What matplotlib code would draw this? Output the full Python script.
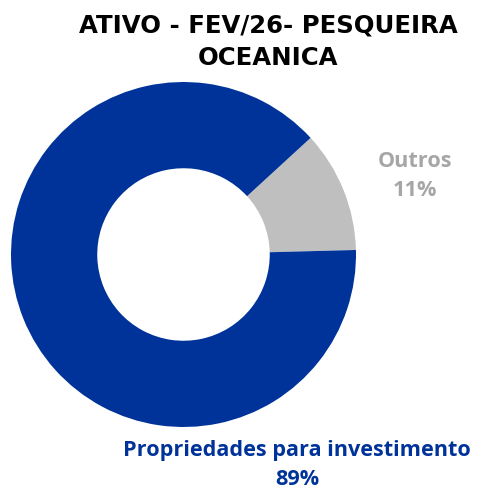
import matplotlib
matplotlib.use("Agg")
import matplotlib.pyplot as plt

title = "ATIVO - FEV/26- PESQUEIRA\nOCEANICA"
categories = ["Outros", "Propriedades para investimento"]
values = [11.4, 88.6]
colors = ["#BFBFBF", "#003399"]
label_colors = ["#A6A6A6", "#003399"]

W, H = 478, 491
fig = plt.figure(figsize=(W / 100, H / 100), dpi=100)

# donut centre (183.5, 254.5) px, outer radius 172.5 px
cx, cy, r = 183.5, 254.5, 172.5
ax = fig.add_axes([(cx - r) / W, (H - cy - r) / H, 2 * r / W, 2 * r / H])
ax.pie(
    values,
    colors=colors,
    startangle=1.5,
    counterclock=True,
    radius=1,
    wedgeprops=dict(width=0.5, edgecolor="none"),
)
ax.set_xlim(-1, 1)
ax.set_ylim(-1, 1)
ax.set_aspect("auto")
ax.axis("off")

fig.text(268 / W, 1 - 41.5 / H, title, ha="center", va="center",
         fontsize=17.6, fontweight="bold", family="DejaVu Sans",
         linespacing=1.45, color="black")

total = sum(values)
label_pos = [(415, 176), (297, 465)]
for cat, val, col, (x, y) in zip(categories, values, label_colors, label_pos):
    fig.text(x / W, 1 - y / H, f"{cat}\n{val / total * 100:.0f}%",
             ha="center", va="center", fontsize=15.6, fontweight="bold",
             family="Open Sans", color=col, linespacing=1.5)

fig.savefig("out.png", dpi=100)
